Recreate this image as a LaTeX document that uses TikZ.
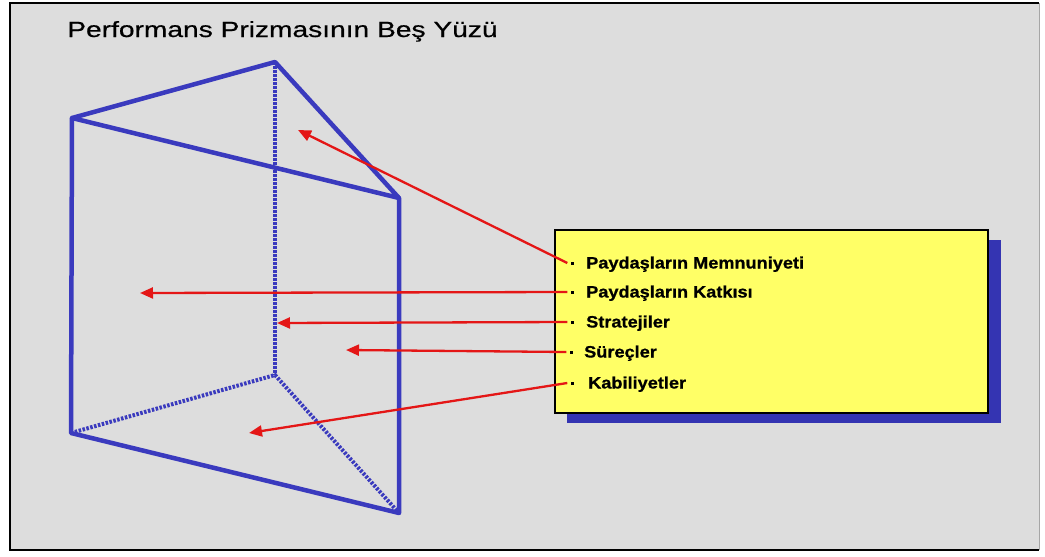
\documentclass[tikz,border=0pt]{standalone}
\usepackage{fontspec}
\setmainfont{Liberation Sans}
\newfontfamily\titlefont[FakeBold=0.5]{Liberation Sans}
\newfontfamily\itemfont[BoldFeatures={FakeBold=0.7}]{Liberation Sans}
\usetikzlibrary{arrows.meta}
\definecolor{bg}{RGB}{221,221,221}
\definecolor{prism}{RGB}{58,58,190}
\definecolor{shadowblue}{RGB}{52,52,178}
\definecolor{boxyellow}{RGB}{255,255,102}
\definecolor{arrowred}{RGB}{228,22,22}
\begin{document}
\begin{tikzpicture}[x=1pt,y=-1pt,
  edge/.style={draw=prism, line width=4.5pt, line join=round, line cap=round},
  hidden/.style={draw=prism, line width=4pt, dash pattern=on 2.5pt off 1.5pt},
  pointer/.style={draw=arrowred, line width=2.3pt, -{Triangle[length=13pt,width=11pt]}},
  item/.style={anchor=base west, font=\itemfont\bfseries\fontsize{16.5}{18}\selectfont, xscale=1.1, inner sep=0pt},
  bulletdot/.style={rectangle, fill=black, inner sep=0pt, minimum size=3pt}]
\useasboundingbox (0,0) rectangle (1045,557);
\fill[white] (0,0) rectangle (1045,557);
\fill[bg] (10,3) rectangle (1039,550);
\draw[black, line width=2.5pt] (1039,3) -- (10,3) -- (10,550) -- (1039,550);
\draw[gray!70, line width=1pt] (1039,3) -- (1039,550);

% title
\node[anchor=base west, font=\titlefont\fontsize{22}{26}\selectfont, xscale=1.28, inner sep=0pt] (title) at (67,37) {Performans Prizmasının Beş Yüzü};

% prism vertices
\coordinate (T) at (275,62);
\coordinate (A) at (72,118);
\coordinate (B) at (399,198);
\coordinate (C) at (71,433);
\coordinate (D) at (399,513);
\coordinate (E) at (275,375);

% hidden edges
\draw[hidden] (T) -- (E);
\draw[hidden] (C) -- (E) -- (D);
% visible edges
\draw[edge] (T) -- (A) -- (B) -- cycle;
\draw[edge] (A) -- (C) -- (D) -- (B);

% box with shadow
\fill[shadowblue] (567,240) rectangle (1001,423);
\draw[fill=boxyellow, line width=2pt] (555,230) rectangle (988,413);

% items
\node[bulletdot] (b1) at (572,263) {};
\node[bulletdot] (b2) at (572,292) {};
\node[bulletdot] (b3) at (572,322) {};
\node[bulletdot] (b4) at (571,352) {};
\node[bulletdot] (b5) at (572,383) {};
\node[item] (t1) at (586,268.5) {Paydaşların Memnuniyeti};
\node[item] (t2) at (586,297.5) {Paydaşların Katkısı};
\node[item] (t3) at (586,327.5) {Stratejiler};
\node[item] (t4) at (584,357.5) {Süreçler};
\node[item] (t5) at (588,388.5) {Kabiliyetler};

% arrow targets
\coordinate (p1) at (298,130);
\coordinate (p2) at (140,293);
\coordinate (p3) at (277,323);
\coordinate (p4) at (346,350);
\coordinate (p5) at (249,433);

\draw[pointer] ([xshift=-3pt]b1.west) -- (p1);
\draw[pointer] ([xshift=-3pt]b2.west) -- (p2);
\draw[pointer] ([xshift=-3pt]b3.west) -- (p3);
\draw[pointer] ([xshift=-3pt]b4.west) -- (p4);
\draw[pointer] ([xshift=-3pt]b5.west) -- (p5);
\end{tikzpicture}
\end{document}
